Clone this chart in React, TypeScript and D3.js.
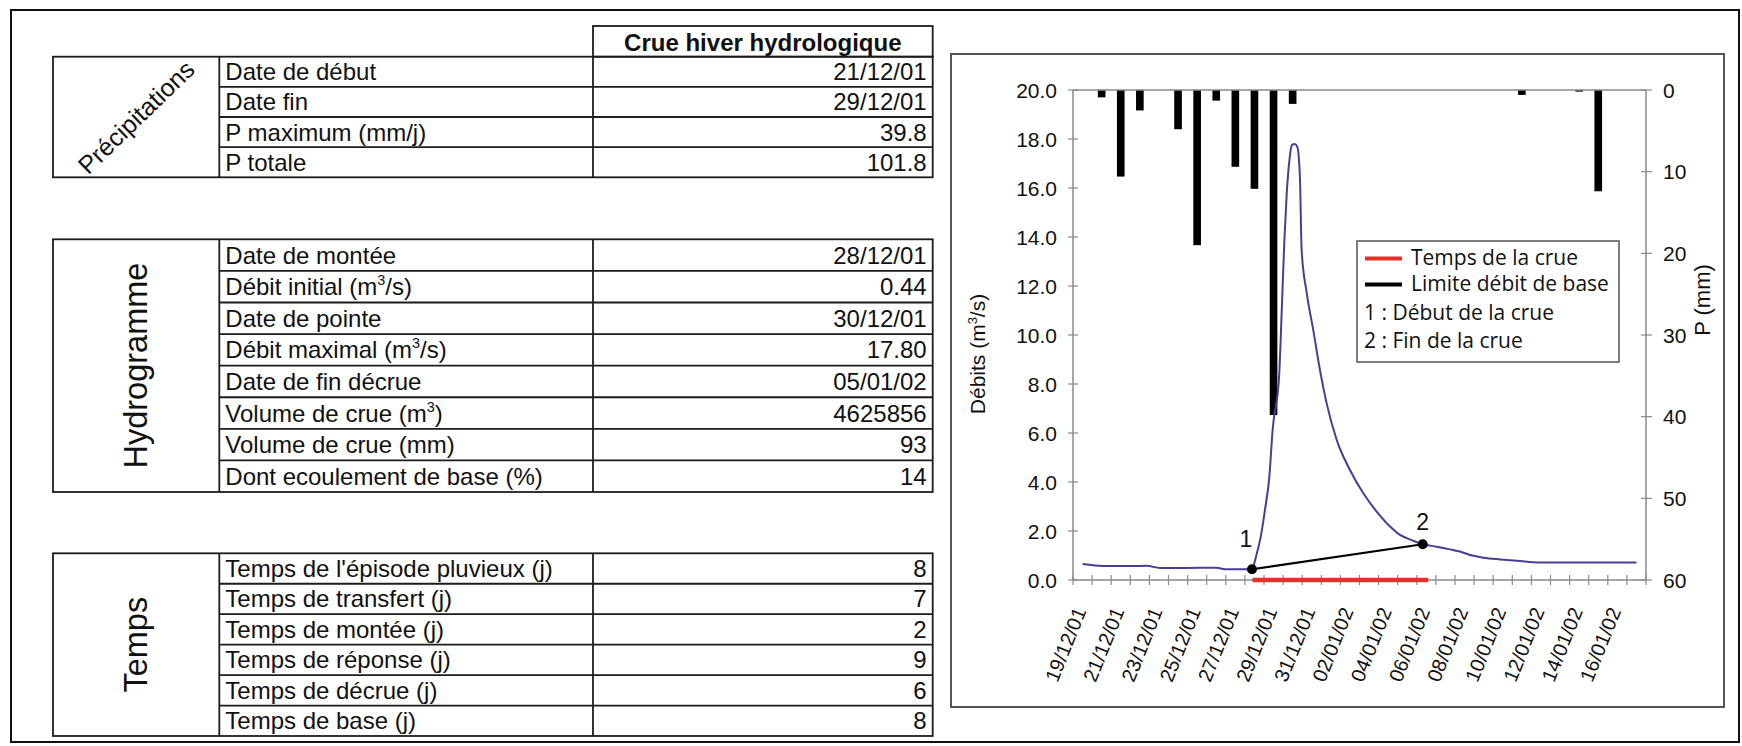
import React from 'react';
import * as d3 from 'd3';

// ---- Summary table content ----
const precipLabels = ['Date de début', 'Date fin', 'P maximum (mm/j)', 'P totale'];
const precipValues = ['21/12/01', '29/12/01', '39.8', '101.8'];

// "^3" marks a superscript 3
const hydroLabels = [
  'Date de montée',
  'Débit initial (m^3/s)',
  'Date de pointe',
  'Débit maximal (m^3/s)',
  'Date de fin décrue',
  'Volume de crue (m^3)',
  'Volume de crue (mm)',
  'Dont ecoulement de base (%)',
];
const hydroValues = ['28/12/01', '0.44', '30/12/01', '17.80', '05/01/02', '4625856', '93', '14'];

const tempsLabels = [
  "Temps de l'épisode pluvieux (j)",
  'Temps de transfert (j)',
  'Temps de montée (j)',
  'Temps de réponse (j)',
  'Temps de décrue (j)',
  'Temps de base (j)',
];
const tempsValues = ['8', '7', '2', '9', '6', '8'];

// ---- Hydrograph data ----
const dayLabels = [
  '19/12/01', '20/12/01', '21/12/01', '22/12/01', '23/12/01', '24/12/01', '25/12/01', '26/12/01',
  '27/12/01', '28/12/01', '29/12/01', '30/12/01', '31/12/01', '01/01/02', '02/01/02', '03/01/02',
  '04/01/02', '05/01/02', '06/01/02', '07/01/02', '08/01/02', '09/01/02', '10/01/02', '11/01/02',
  '12/01/02', '13/01/02', '14/01/02', '15/01/02', '16/01/02', '17/01/02',
];

// daily rainfall (mm), one value per day
const rainfall = [
  0, 0.9, 10.6, 2.5, 0, 4.8, 19.0, 1.3, 9.4, 12.1, 39.8, 1.7, 0, 0, 0, 0,
  0, 0, 0, 0, 0, 0, 0, 0.6, 0, 0, 0.2, 12.4, 0, 0,
];

// discharge: time in days from the first day, flow in m3/s
const flowDay = [
  0, 1.09, 2.48, 3.36, 4.05, 5.27, 7.02, 7.46, 8.87, 9.08, 9.33, 9.55, 9.78, 9.95, 10.29,
  10.43, 10.56, 10.69, 10.83, 10.97, 11.11, 11.24, 11.38, 11.47, 11.74, 12.08, 12.43, 12.78,
  13.31, 14.0, 14.7, 15.4, 16.1, 16.62, 17.23, 17.81, 18.54, 19.24, 19.76, 20.29, 20.98,
  21.86, 22.73, 23.95, 26.22, 29.0,
];
const flowValue = [
  0.65, 0.57, 0.57, 0.58, 0.49, 0.49, 0.5, 0.44, 0.44, 0.95, 1.77, 2.86, 4.22, 6.12, 8.3,
  11.02, 13.74, 15.78, 17.14, 17.76, 17.8, 17.69, 16.46, 13.47, 11.7, 10.2, 8.57, 7.21,
  5.71, 4.49, 3.54, 2.79, 2.18, 1.84, 1.63, 1.46, 1.36, 1.25, 1.16, 1.02, 0.91,
  0.84, 0.79, 0.71, 0.71, 0.71,
];

// flood start (1) and end (2): [day, flow]
const floodStart: [number, number] = [8.87, 0.44];
const floodEnd: [number, number] = [17.81, 1.46];
// flood duration bar along the time axis
const floodSpan: [number, number] = [8.9, 18.1];

const qTicks = [0, 2, 4, 6, 8, 10, 12, 14, 16, 18, 20];
const pTicks = [0, 10, 20, 30, 40, 50, 60];

const legendItems = ['Temps de la crue', 'Limite débit de base', '1 : Début de la crue', '2 : Fin de la crue'];

const TABLE_FONT = '"Liberation Sans", Arial, sans-serif';
const LEGEND_FONT = '"Open Sans", "Noto Sans", sans-serif';
const LINE = '#1c1c1c';

function Label({ text, x, y, size }: { text: string; x: number; y: number; size: number }) {
  const parts = text.split('^');
  if (parts.length === 1) {
    return (
      <text x={x} y={y} fontSize={size}>
        {text}
      </text>
    );
  }
  const sup = parts[1].charAt(0);
  const rest = parts[1].slice(1);
  return (
    <text x={x} y={y} fontSize={size}>
      <tspan>{parts[0]}</tspan>
      <tspan dy={-10} fontSize={size * 0.6}>
        {sup}
      </tspan>
      <tspan dy={10}>{rest}</tspan>
    </text>
  );
}

function InfoTable({
  top,
  bottom,
  labels,
  values,
  group,
}: {
  top: number;
  bottom: number;
  labels: string[];
  values: string[];
  group: React.ReactNode;
}) {
  const left = 53;
  const c1 = 219.3;
  const c2 = 593;
  const right = 932.7;
  const rows = d3.scaleLinear().domain([0, labels.length]).range([top, bottom]);
  const rh = (bottom - top) / labels.length;
  return (
    <g fontFamily={TABLE_FONT} fill="#111">
      <rect x={left} y={top} width={right - left} height={bottom - top} fill="none" stroke={LINE} strokeWidth={1.8} />
      <line x1={c1} x2={c1} y1={top} y2={bottom} stroke={LINE} strokeWidth={1.8} />
      <line x1={c2} x2={c2} y1={top} y2={bottom} stroke={LINE} strokeWidth={1.8} />
      {labels.slice(1).map((_, i) => (
        <line key={i} x1={c1} x2={right} y1={rows(i + 1)} y2={rows(i + 1)} stroke={LINE} strokeWidth={1.8} />
      ))}
      {labels.map((l, i) => (
        <Label key={l + i} text={l} x={c1 + 6} y={rows(i) + rh / 2 + 8.5} size={24} />
      ))}
      {values.map((v, i) => (
        <text key={i} x={right - 6} y={rows(i) + rh / 2 + 8.5} fontSize={24} textAnchor="end">
          {v}
        </text>
      ))}
      {group}
    </g>
  );
}

function Hydrograph() {
  const x = d3.scaleLinear().domain([-0.5, dayLabels.length - 0.5]).range([1073, 1646]);
  const yQ = d3.scaleLinear().domain([0, 20]).range([580, 90]);
  const yP = d3.scaleLinear().domain([0, 60]).range([90, 580]);
  const step = x(1) - x(0);
  const barW = step * 0.4;

  const flowPts: [number, number][] = flowDay.map((d, i) => [d, flowValue[i]]);
  const flowLine = d3
    .line<[number, number]>()
    .x((d) => x(d[0]))
    .y((d) => yQ(d[1]))
    .curve(d3.curveMonotoneX)(flowPts);

  const axisColor = '#8a8a8a';
  const font = '"Liberation Sans", Arial, sans-serif';
  const [x0, x1] = x.range();
  const [yBottom, yTop] = yQ.range();

  return (
    <g fontFamily={font}>
      {/* chart frame */}
      <rect x={951} y={54} width={773} height={653} fill="#fff" stroke="#555" strokeWidth={2} />

      {/* rainfall bars hanging from the top */}
      {rainfall.map((p, i) =>
        p > 0 ? (
          <rect key={i} x={x(i) - barW / 2} y={yP(0)} width={barW} height={yP(p) - yP(0)} fill="#000" />
        ) : null
      )}

      {/* axes */}
      <line x1={x0} x2={x1} y1={yTop} y2={yTop} stroke={axisColor} strokeWidth={1.5} />
      <line x1={x0} x2={x0} y1={yTop} y2={yBottom} stroke={axisColor} strokeWidth={1.5} />
      <line x1={x1} x2={x1} y1={yTop} y2={yBottom} stroke={axisColor} strokeWidth={1.5} />
      <line x1={x0} x2={x1} y1={yBottom} y2={yBottom} stroke={axisColor} strokeWidth={1.5} />

      {qTicks.map((t) => (
        <g key={'q' + t}>
          <line x1={x0 - 5} x2={x0 + 5} y1={yQ(t)} y2={yQ(t)} stroke={axisColor} strokeWidth={1.2} />
          <text x={1057} y={yQ(t)} dy="0.36em" fontSize={21} textAnchor="end" fill="#111">
            {d3.format('.1f')(t)}
          </text>
        </g>
      ))}
      {pTicks.map((t) => (
        <g key={'p' + t}>
          <line x1={x1 - 5} x2={x1 + 6} y1={yP(t)} y2={yP(t)} stroke={axisColor} strokeWidth={1.2} />
          <text x={1663} y={yP(t)} dy="0.36em" fontSize={21} fill="#111">
            {t}
          </text>
        </g>
      ))}
      {d3.range(dayLabels.length + 1).map((i) => (
        <line
          key={'xt' + i}
          x1={x(i - 0.5)}
          x2={x(i - 0.5)}
          y1={yBottom - 5}
          y2={yBottom + 5}
          stroke={axisColor}
          strokeWidth={1.2}
        />
      ))}
      {dayLabels.map((d, i) =>
        i % 2 === 0 ? (
          <text
            key={d}
            transform={`translate(${x(i) + 4},${yBottom + 31}) rotate(-68)`}
            fontSize={20}
            textAnchor="end"
            fill="#111"
          >
            {d}
          </text>
        ) : null
      )}

      {/* axis titles */}
      <text transform={`translate(985,354) rotate(-90)`} fontSize={21} textAnchor="middle" fill="#111">
        <tspan>Débits (m</tspan>
        <tspan dy={-8} fontSize={13}>
          3
        </tspan>
        <tspan dy={8}>/s)</tspan>
      </text>
      <text transform={`translate(1710,300) rotate(-90)`} fontSize={22} textAnchor="middle" fill="#111">
        P (mm)
      </text>

      {/* flood duration */}
      <line
        x1={x(floodSpan[0])}
        x2={x(floodSpan[1])}
        y1={yBottom}
        y2={yBottom}
        stroke="#e3312a"
        strokeWidth={4.5}
      />

      {/* discharge */}
      <path d={flowLine ?? ''} fill="none" stroke="#4a3d96" strokeWidth={2} />

      {/* base flow limit */}
      <line
        x1={x(floodStart[0])}
        y1={yQ(floodStart[1])}
        x2={x(floodEnd[0])}
        y2={yQ(floodEnd[1])}
        stroke="#000"
        strokeWidth={2.2}
      />
      <circle cx={x(floodStart[0])} cy={yQ(floodStart[1])} r={5} fill="#000" />
      <circle cx={x(floodEnd[0])} cy={yQ(floodEnd[1])} r={5} fill="#000" />
      <text x={x(floodStart[0]) - 6} y={yQ(floodStart[1]) - 22} fontSize={23} textAnchor="middle" fill="#111">
        1
      </text>
      <text x={x(floodEnd[0])} y={yQ(floodEnd[1]) - 14} fontSize={23} textAnchor="middle" fill="#111">
        2
      </text>

      {/* legend */}
      <g fontFamily={LEGEND_FONT} fill="#111">
        <rect x={1357} y={241} width={262} height={121} fill="#fff" stroke="#555" strokeWidth={1.5} />
        <line x1={1365} x2={1402} y1={258.5} y2={258.5} stroke="#e3312a" strokeWidth={4} />
        <line x1={1365} x2={1402} y1={284.5} y2={284.5} stroke="#000" strokeWidth={4} />
        <text x={1411} y={265} fontSize={21}>
          {legendItems[0]}
        </text>
        <text x={1411} y={291} fontSize={21}>
          {legendItems[1]}
        </text>
        <text x={1364} y={319.5} fontSize={21}>
          {legendItems[2]}
        </text>
        <text x={1364} y={348} fontSize={21}>
          {legendItems[3]}
        </text>
      </g>
    </g>
  );
}

export default function App() {
  return (
    <svg
      width={1742}
      height={746}
      style={{ position: 'absolute', left: 0, top: 0, background: '#fff' }}
      xmlns="http://www.w3.org/2000/svg"
    >
      <rect x={0} y={0} width={1742} height={746} fill="#fff" />
      <rect x={11} y={10} width={1728} height={732} fill="none" stroke="#111" strokeWidth={2} />

      {/* header cell */}
      <g fontFamily={TABLE_FONT}>
        <rect x={593} y={26} width={339.7} height={30.7} fill="none" stroke={LINE} strokeWidth={1.8} />
        <text x={762.8} y={50.5} fontSize={24} fontWeight="bold" textAnchor="middle" fill="#111">
          Crue hiver hydrologique
        </text>
      </g>

      <InfoTable
        top={56.7}
        bottom={177.3}
        labels={precipLabels}
        values={precipValues}
        group={
          <text
            transform="translate(136,117) rotate(-44)"
            fontSize={25}
            textAnchor="middle"
            dominantBaseline="central"
          >
            Précipitations
          </text>
        }
      />
      <InfoTable
        top={239.3}
        bottom={492}
        labels={hydroLabels}
        values={hydroValues}
        group={
          <text transform="translate(146.7,365.6) rotate(-90)" fontSize={32.5} textAnchor="middle">
            Hydrogramme
          </text>
        }
      />
      <InfoTable
        top={553.3}
        bottom={736}
        labels={tempsLabels}
        values={tempsValues}
        group={
          <text transform="translate(146.7,644.7) rotate(-90)" fontSize={32.5} textAnchor="middle">
            Temps
          </text>
        }
      />

      <Hydrograph />
    </svg>
  );
}
